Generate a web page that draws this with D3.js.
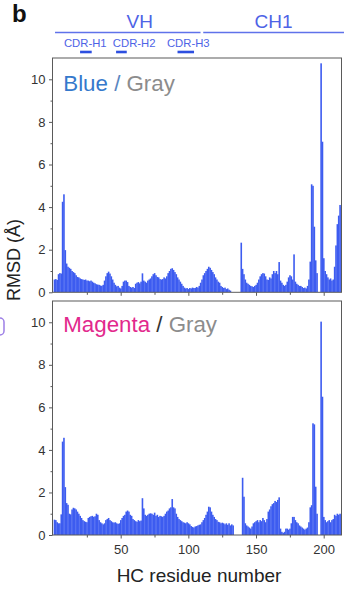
<!DOCTYPE html>
<html><head><meta charset="utf-8">
<script src="https://cdn.jsdelivr.net/npm/d3@7"></script>
<style>html,body{margin:0;padding:0;background:#fff;}svg{display:block;font-family:"Liberation Sans",Arial,sans-serif;}</style>
</head><body>
<svg id="c" width="344" height="596"></svg>
<script>
// ---- data ----
const residues = d3.range(1, 214);
const blueGray = [
0.6,0.62,0.58,0.85,0.9,0.88,4.25,4.6,1.98,1.35,
1.2,1.15,1.1,1.0,0.95,0.9,0.8,0.72,0.7,0.65,
0.62,0.6,0.58,0.6,0.55,0.55,0.52,0.55,0.5,0.45,
0.42,0.38,0.36,0.35,0.32,0.3,0.35,0.55,0.75,0.9,
0.97,0.88,0.75,0.6,0.45,0.35,0.28,0.3,0.22,0.18,
0.3,0.5,0.55,0.55,0.48,0.3,0.25,0.22,0.25,0.2,
0.4,0.45,0.48,0.42,0.5,0.89,0.55,0.5,0.45,0.55,
0.6,0.65,0.75,0.85,0.9,0.8,0.72,0.7,0.62,0.6,
0.62,0.7,0.65,0.75,0.9,1.0,1.1,1.13,1.05,0.95,
0.85,0.7,0.6,0.5,0.4,0.3,0.22,0.18,0.2,0.15,
0.2,0.18,0.22,0.2,0.2,0.25,0.22,0.3,0.45,0.6,
0.8,0.9,1.0,1.1,1.2,1.15,1.05,0.95,0.85,0.7,
0.6,0.5,0.45,0.3,0.25,0.2,0.22,0.15,0.18,0.12,
0.08,0,0,0,0,0,0,0,2.33,1.1,
0.85,0.6,0.45,0.4,0.35,0.3,0.28,0.25,0.3,0.35,
0.45,0.6,0.75,0.85,0.9,0.88,0.75,0.6,0.58,0.7,
0.65,0.85,1.0,0.9,1.0,0.85,1.42,0.55,0.45,0.35,
0.3,0.35,0.5,0.7,0.8,0.75,0.6,1.78,0.5,0.4,
0.35,0.3,0.3,0.25,0.2,0.22,0.18,0.3,0.6,1.44,
5.07,5.0,3.08,1.5,0.9,0,0,10.75,7.07,1.6,
1.0,0.85,0.7,0.6,0.65,0.55,0.6,1.2,2.2,3.2,
3.6,4.1,4.0];
const magentaGray = [
0.72,0.7,0.6,0.55,0.55,0.97,4.39,4.57,2.25,1.5,
1.42,1.0,0.97,1.2,1.28,1.25,1.2,1.1,1.0,0.9,
0.8,0.7,0.65,0.62,0.6,0.8,0.85,0.88,0.9,0.85,
0.88,1.0,0.95,0.7,0.6,0.55,0.5,0.55,0.7,0.75,
0.8,0.7,0.65,0.6,0.58,0.6,0.55,0.52,0.55,0.7,
0.8,0.9,0.95,1.1,1.15,1.1,0.95,0.9,0.75,0.7,
0.65,0.62,0.7,0.65,0.68,1.73,1.25,0.95,0.9,0.95,
1.0,1.02,1.0,0.95,1.05,0.9,0.95,0.85,0.9,0.88,
0.85,0.9,1.0,1.1,1.15,1.25,1.3,1.69,1.3,1.25,
1.0,0.85,0.75,0.7,0.65,0.6,0.58,0.55,0.6,0.55,
0.5,0.42,0.38,0.35,0.4,0.42,0.45,0.48,0.5,0.6,
0.7,0.8,0.95,1.1,1.33,1.3,1.1,0.95,0.85,0.75,
0.7,0.62,0.6,0.55,0.58,0.55,0.5,0.55,0.48,0.55,
0.45,0.5,0.45,0,0,0,0,0,0,2.69,
1.8,0.55,0.45,0.4,0.35,0.3,0.4,0.55,0.6,0.65,
0.7,0.6,0.7,0.65,0.8,0.7,0.6,0.75,1.1,1.2,
1.35,1.45,1.5,1.6,1.55,1.65,1.77,0.3,0.15,0.1,
0.15,0.3,0.3,0.25,0.3,0.55,0.85,0.85,0.7,0.6,
0.55,0.45,0.4,0.35,0.3,0.25,0.3,0.35,0.6,1.3,
1.4,5.25,5.2,2.27,1.0,0,0,10.03,6.5,0.85,
0.7,0.6,0.65,0.7,0.6,0.7,0.75,0.95,0.9,1.0,
0.95,1.0,0.95];
const yTicks = [0, 2, 4, 6, 8, 10];
const yMinor = [1, 3, 5, 7, 9];
const xTicks = [50, 100, 150, 200];
const xMinor = [25, 75, 125, 175];
const domainNames = ["VH", "CH1"];
const domainStart = [1.5, 111];
const domainEnd = [109, 216];
const cdrNames = ["CDR-H1", "CDR-H2", "CDR-H3"];
const cdrStart = [20, 46.6, 92];
const cdrEnd = [28.6, 54.5, 104.2];

// ---- layout ----
const svg = d3.select("#c");
const L = 52.5, R = 341.5;
const x = d3.scaleLinear().domain([0, 213.3]).range([53, 341.7]);
const barColor = "#3d5cf0";
const frameColor = "#5a5a5a";
const textColor = "#333";

// header
svg.append("text").attr("x", 12).attr("y", 22).attr("font-size", 24).attr("font-weight", "bold").attr("fill", "#111").text("b");
domainNames.forEach((n, i) => {
  const a = Math.max(x(domainStart[i]), 0), b = Math.min(x(domainEnd[i]), 344);
  svg.append("line").attr("x1", a).attr("x2", b).attr("y1", 32.5).attr("y2", 32.5)
    .attr("stroke", "#5f72ea").attr("stroke-width", 1.3);
  svg.append("text").attr("x", (a + b) / 2 + (i === 0 ? 12 : 0)).attr("y", 28.3).attr("text-anchor", "middle")
    .attr("font-size", 19).attr("fill", "#4e63e6").text(n);
});
const cdrLabelX = [85.3, 134.2, 188.3];
cdrNames.forEach((n, i) => {
  svg.append("text").attr("x", cdrLabelX[i]).attr("y", 47.3).attr("text-anchor", "middle")
    .attr("font-size", 11.3).attr("fill", "#4e63e6").text(n);
  svg.append("line").attr("x1", x(cdrStart[i])).attr("x2", x(cdrEnd[i])).attr("y1", 52).attr("y2", 52)
    .attr("stroke", "#2d4fe0").attr("stroke-width", 2.6);
});

function panel(values, top, bottom, labelParts, labelY, showX, id) {
  const y = d3.scaleLinear().domain([0, 11]).range([bottom, top]);
  const g = svg.append("g");
  g.append("clipPath").attr("id", id).append("rect").attr("x", L).attr("y", top).attr("width", R - L).attr("height", bottom - top);
  g.append("g").attr("clip-path", `url(#${id})`).selectAll("rect").data(residues).join("rect")
    .attr("x", d => x(d - 0.5))
    .attr("width", d => x(d + 0.5) - x(d - 0.5) + 0.25)
    .attr("y", (d, i) => y(values[i]))
    .attr("height", (d, i) => bottom - y(values[i]))
    .attr("fill", barColor);
  // frame
  g.append("rect").attr("x", L).attr("y", top).attr("width", R - L).attr("height", bottom - top)
    .attr("fill", "none").attr("stroke", frameColor).attr("stroke-width", 1);
  // y axis
  const ya = d3.axisLeft(y).tickValues(yTicks).tickSize(3.5).tickPadding(3.5).tickFormat(d3.format("d"));
  const yg = g.append("g").attr("transform", `translate(${L},0)`).call(ya);
  yg.select(".domain").remove();
  yg.selectAll("line").attr("stroke", frameColor);
  yg.selectAll("text").attr("font-size", 13).attr("fill", textColor).attr("font-family", "Liberation Sans, Arial, sans-serif");
  const ym = g.append("g").attr("transform", `translate(${L},0)`).call(d3.axisLeft(y).tickValues(yMinor).tickSize(2).tickFormat(""));
  ym.select(".domain").remove();
  ym.selectAll("line").attr("stroke", frameColor);
  // x axis
  const xa = d3.axisBottom(x).tickValues(xTicks).tickSize(3.5).tickPadding(6).tickFormat(showX ? d3.format("d") : "");
  const xg = g.append("g").attr("transform", `translate(0,${bottom})`).call(xa);
  xg.select(".domain").remove();
  xg.selectAll("line").attr("stroke", frameColor);
  xg.selectAll("text").attr("font-size", 13).attr("fill", textColor).attr("font-family", "Liberation Sans, Arial, sans-serif");
  const xm = g.append("g").attr("transform", `translate(0,${bottom})`).call(d3.axisBottom(x).tickValues(xMinor).tickSize(2.5).tickFormat(""));
  xm.select(".domain").remove();
  xm.selectAll("line").attr("stroke", frameColor);
  // label
  const t = g.append("text").attr("x", 63.3).attr("y", labelY).attr("font-size", 22.3);
  labelParts.forEach(p => t.append("tspan").attr("fill", p[1]).text(p[0]));
}

panel(blueGray, 58, 292.3, [["Blue", "#3579cc"], [" / ", "#5a86c0"], ["Gray", "#8c8c8c"]], 90.6, false, "clipA");
panel(magentaGray, 301, 535, [["Magenta", "#e2288c"], [" / ", "#333"], ["Gray", "#8c8c8c"]], 332.3, true, "clipB");

// axis titles
svg.append("text").attr("transform", "translate(20,260) rotate(-90)").attr("text-anchor", "middle")
  .attr("font-size", 18).attr("fill", "#222").text("RMSD (Å)");
svg.append("text").attr("x", 199).attr("y", 581.7).attr("text-anchor", "middle")
  .attr("font-size", 19).attr("fill", "#222").text("HC residue number");

// fragment of neighbouring panel at the left edge
svg.append("rect").attr("x", -8).attr("y", 318).attr("width", 12).attr("height", 17).attr("rx", 4)
  .attr("fill", "none").attr("stroke", "#9d7fe6").attr("stroke-width", 1.5);
</script>
</body></html>
